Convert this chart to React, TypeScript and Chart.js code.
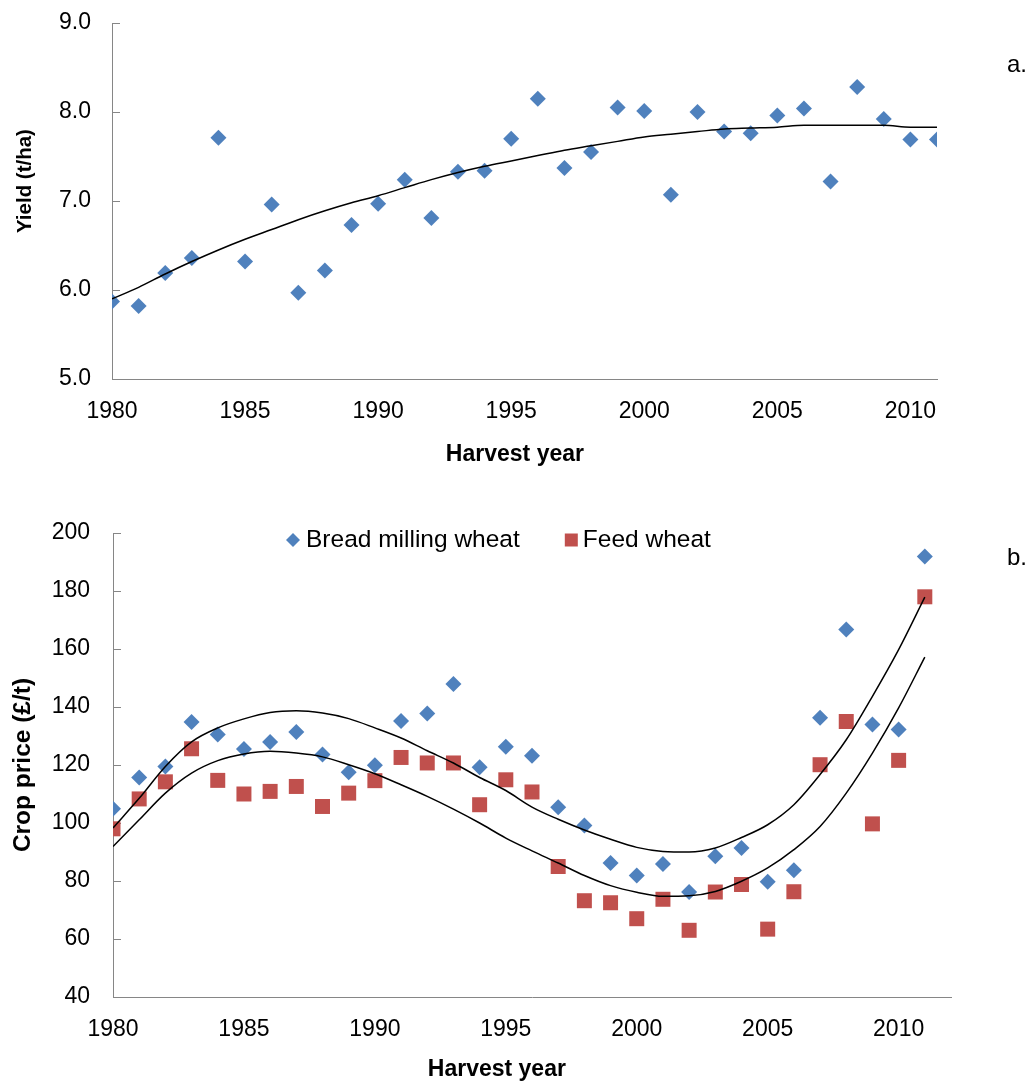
import React, { useEffect, useRef } from 'react';
import { Chart, registerables } from 'chart.js';

Chart.register(...registerables);

const FONT = "'Liberation Sans', Arial, Helvetica, sans-serif";
const BLUE = '#4F81BD';
const RED = '#C0504D';
const AXIS = '#868686';

// ---------- data ----------
const years = [
  1980, 1981, 1982, 1983, 1984, 1985, 1986, 1987, 1988, 1989, 1990, 1991, 1992, 1993, 1994, 1995,
  1996, 1997, 1998, 1999, 2000, 2001, 2002, 2003, 2004, 2005, 2006, 2007, 2008, 2009, 2010, 2011,
];

// panel a: wheat yield (t/ha)
const yieldValues = [
  5.87, 5.82, 6.19, 6.36, 7.71, 6.32, 6.96, 5.97, 6.22, 6.73, 6.97, 7.24, 6.81, 7.33, 7.34, 7.7,
  8.15, 7.37, 7.55, 8.05, 8.01, 7.07, 8.0, 7.78, 7.76, 7.96, 8.04, 7.22, 8.28, 7.92, 7.69, 7.69,
];
const yieldTrend = [
  5.9, 6.03, 6.18, 6.32, 6.45, 6.57, 6.68, 6.79, 6.89, 6.98, 7.06, 7.15, 7.24, 7.32, 7.39, 7.45,
  7.51, 7.57, 7.62, 7.67, 7.72, 7.75, 7.78, 7.81, 7.82, 7.83, 7.85, 7.85, 7.85, 7.85, 7.83, 7.83,
];

// panel b: crop prices (GBP/t)
const breadPrice = [
  104.9, 115.7, 119.5, 134.8, 130.5, 125.5, 127.9, 131.4, 123.6, 117.5, 119.9, 135.2, 137.8, 147.9, 119.2, 126.3,
  123.2, 105.4, 99.1, 86.2, 81.9, 85.9, 76.2, 88.5, 91.4, 79.7, 83.7, 136.3, 166.7, 134.0, 132.2, 191.9,
];
const feedPrice = [
  98.0, 108.3, 114.2, 125.6, 114.7, 110.0, 110.9, 112.6, 105.7, 110.3, 114.6, 122.6, 120.7, 120.7, 106.3, 114.9,
  110.7, 85.0, 73.2, 72.5, 67.0, 73.7, 63.0, 76.2, 78.8, 63.4, 76.3, 120.1, 135.0, 99.7, 121.6, 178.0,
];
const breadTrend = [
  98.3, 108.5, 119.5, 128.0, 132.8, 135.9, 138.1, 138.7, 137.9, 136.0, 132.8, 129.3, 124.9, 120.7, 115.7, 111.2,
  105.5, 101.3, 97.6, 94.4, 91.6, 90.2, 90.0, 91.4, 95.0, 99.4, 106.3, 116.7, 128.7, 143.7, 159.8, 177.9,
];
const feedTrend = [
  91.9, 101.1, 110.3, 117.2, 121.5, 123.8, 124.7, 124.1, 122.8, 120.1, 117.0, 113.2, 109.2, 104.8, 100.0, 94.8,
  90.4, 86.2, 81.9, 78.4, 76.1, 74.7, 74.9, 76.4, 79.9, 84.5, 90.8, 98.8, 110.3, 124.1, 139.7, 157.2,
];

// ticks
const xTickYears = [1980, 1985, 1990, 1995, 2000, 2005, 2010];
const yieldTicks = [5, 6, 7, 8, 9];
const priceTicks = [40, 60, 80, 100, 120, 140, 160, 180, 200];

const seriesLabels = ['Bread milling wheat', 'Feed wheat'];

const toPoints = (vals: number[]) => years.map((x, i) => ({ x, y: vals[i] }));

// ---------- plugins ----------
const inwardTicks = {
  id: 'inwardTicks',
  beforeDatasetsDraw(chart: any) {
    const y = chart.scales.y;
    const ctx = chart.ctx;
    const left = chart.chartArea.left;
    ctx.save();
    ctx.strokeStyle = AXIS;
    ctx.lineWidth = 1;
    y.ticks.forEach((t: any) => {
      const py = Math.round(y.getPixelForValue(t.value)) + 0.5;
      ctx.beginPath();
      ctx.moveTo(left, py);
      ctx.lineTo(left + 8, py);
      ctx.stroke();
    });
    ctx.restore();
  },
};

const cornerLabel = {
  id: 'cornerLabel',
  afterDraw(chart: any, _args: any, opts: any) {
    if (!opts || !opts.text) return;
    const ctx = chart.ctx;
    ctx.save();
    ctx.font = `24px ${FONT}`;
    ctx.fillStyle = '#000';
    ctx.textAlign = 'right';
    ctx.textBaseline = 'middle';
    ctx.fillText(opts.text, opts.x, opts.y);
    ctx.restore();
  },
};

const insideLegend = {
  id: 'insideLegend',
  afterDraw(chart: any, _args: any, opts: any) {
    if (!opts || !opts.display) return;
    const ctx = chart.ctx;
    const cy = chart.chartArea.top + opts.offsetY;
    let x = opts.startX;
    ctx.save();
    ctx.font = `24.5px ${FONT}`;
    ctx.textBaseline = 'middle';
    ctx.textAlign = 'left';
    const items = chart.data.datasets.filter((d: any) => d.inLegend);
    items.forEach((d: any, i: number) => {
      ctx.fillStyle = d.backgroundColor;
      ctx.beginPath();
      if (d.pointStyle === 'rectRot') {
        const r = 7;
        ctx.moveTo(x, cy - r);
        ctx.lineTo(x + r, cy);
        ctx.lineTo(x, cy + r);
        ctx.lineTo(x - r, cy);
        ctx.closePath();
        ctx.fill();
        x += 13;
      } else {
        const s = 13;
        ctx.rect(x, cy - s / 2, s, s);
        ctx.fill();
        x += s + 5;
      }
      ctx.fillStyle = '#000';
      ctx.fillText(d.label, x, cy);
      x += ctx.measureText(d.label).width + (i === 0 ? 45 : 0);
    });
    ctx.restore();
  },
};

// ---------- shared options ----------
function xScale(max: number, height: number, title: string, titlePad: number) {
  return {
    type: 'linear',
    min: 1980,
    max,
    afterBuildTicks: (s: any) => {
      s.ticks = xTickYears.map((v) => ({ value: v }));
    },
    afterFit: (s: any) => {
      s.height = height;
    },
    grid: { display: false, drawTicks: false },
    border: { display: true, color: AXIS, width: 1 },
    ticks: {
      color: '#000',
      font: { size: 23, family: FONT },
      padding: 19,
      maxRotation: 0,
      autoSkip: false,
      callback: (v: any) => String(v),
    },
    title: {
      display: true,
      text: title,
      color: '#000',
      font: { size: 23, weight: 'bold', family: FONT, lineHeight: 1 },
      padding: { top: 0, bottom: titlePad },
    },
  };
}

function yScale(
  min: number,
  max: number,
  ticks: number[],
  fmt: (v: number) => string,
  title: string,
  titleSize: number,
  width: number,
  pad: number,
  titlePad: number
) {
  return {
    type: 'linear',
    min,
    max,
    afterBuildTicks: (s: any) => {
      s.ticks = ticks.map((v) => ({ value: v }));
    },
    afterFit: (s: any) => {
      s.width = width;
      s.paddingTop = 0;
      s.paddingBottom = 0;
    },
    grid: { display: false, drawTicks: false },
    border: { display: true, color: AXIS, width: 1 },
    ticks: {
      color: '#000',
      font: { size: 23, family: FONT },
      padding: pad,
      autoSkip: false,
      callback: (v: any) => fmt(Number(v)),
    },
    title: {
      display: true,
      text: title,
      color: '#000',
      font: { size: titleSize, weight: 'bold', family: FONT, lineHeight: 1 },
      padding: { top: titlePad, bottom: 0 },
    },
  };
}

function useChart(ref: React.RefObject<HTMLCanvasElement | null>, makeConfig: () => any) {
  useEffect(() => {
    if (!ref.current) return;
    const chart = new Chart(ref.current, makeConfig());
    return () => chart.destroy();
  }, []);
}

function YieldChart() {
  const ref = useRef<HTMLCanvasElement | null>(null);
  useChart(ref, () => ({
    type: 'scatter',
    data: {
      datasets: [
        {
          label: 'Yield trend',
          data: toPoints(yieldTrend),
          showLine: true,
          pointRadius: 0,
          borderColor: '#000',
          borderWidth: 1.5,
          cubicInterpolationMode: 'monotone',
          order: 0,
        },
        {
          label: 'Yield',
          data: toPoints(yieldValues),
          pointStyle: 'rectRot',
          pointRadius: 8,
          pointBorderWidth: 0,
          backgroundColor: BLUE,
          borderColor: BLUE,
          order: 1,
        },
      ],
    },
    options: {
      responsive: false,
      animation: false,
      events: [],
      layout: { padding: { top: 23, right: 98, left: 0, bottom: 0 } },
      scales: {
        x: xScale(2011, 91, 'Harvest year   ', 4),
        y: yScale(5, 9, yieldTicks, (v) => v.toFixed(1), '       Yield (t/ha)', 20.5, 112, 21, 15),
      },
      plugins: {
        legend: { display: false },
        tooltip: { enabled: false },
        cornerLabel: { text: 'a.', x: 1027, y: 65 },
      },
    },
    plugins: [inwardTicks, cornerLabel],
  }));
  return <canvas ref={ref} width={1035} height={470} style={{ display: 'block' }} />;
}

function PriceChart() {
  const ref = useRef<HTMLCanvasElement | null>(null);
  useChart(ref, () => ({
    type: 'scatter',
    data: {
      datasets: [
        {
          label: 'Bread milling wheat trend',
          data: toPoints(breadTrend),
          showLine: true,
          pointRadius: 0,
          borderColor: '#000',
          borderWidth: 1.5,
          cubicInterpolationMode: 'monotone',
          order: 0,
        },
        {
          label: 'Feed wheat trend',
          data: toPoints(feedTrend),
          showLine: true,
          pointRadius: 0,
          borderColor: '#000',
          borderWidth: 1.5,
          cubicInterpolationMode: 'monotone',
          order: 0,
        },
        {
          label: seriesLabels[0],
          inLegend: true,
          data: toPoints(breadPrice),
          pointStyle: 'rectRot',
          pointRadius: 8,
          pointBorderWidth: 0,
          backgroundColor: BLUE,
          borderColor: BLUE,
          order: 1,
        },
        {
          label: seriesLabels[1],
          inLegend: true,
          data: toPoints(feedPrice),
          pointStyle: 'rect',
          pointRadius: 10.6,
          pointBorderWidth: 0,
          backgroundColor: RED,
          borderColor: RED,
          order: 2,
        },
      ],
    },
    options: {
      responsive: false,
      animation: false,
      events: [],
      layout: { padding: { top: 63, right: 84, left: 0, bottom: 0 } },
      scales: {
        x: xScale(2012, 86, 'Harvest year           ', 2),
        y: yScale(40, 200, priceTicks, (v) => String(v), 'Crop price (£/t)', 24.5, 113, 23, 11),
      },
      plugins: {
        legend: { display: false },
        tooltip: { enabled: false },
        cornerLabel: { text: 'b.', x: 1027, y: 88 },
        insideLegend: { display: true, offsetY: 7, startX: 293 },
      },
    },
    plugins: [inwardTicks, cornerLabel, insideLegend],
  }));
  return <canvas ref={ref} width={1035} height={613} style={{ display: 'block' }} />;
}

export default function App() {
  return (
    <div
      style={{
        position: 'absolute',
        left: 0,
        top: 0,
        width: 1035,
        height: 1083,
        background: '#fff',
        overflow: 'hidden',
      }}
    >
      <YieldChart />
      <PriceChart />
    </div>
  );
}
